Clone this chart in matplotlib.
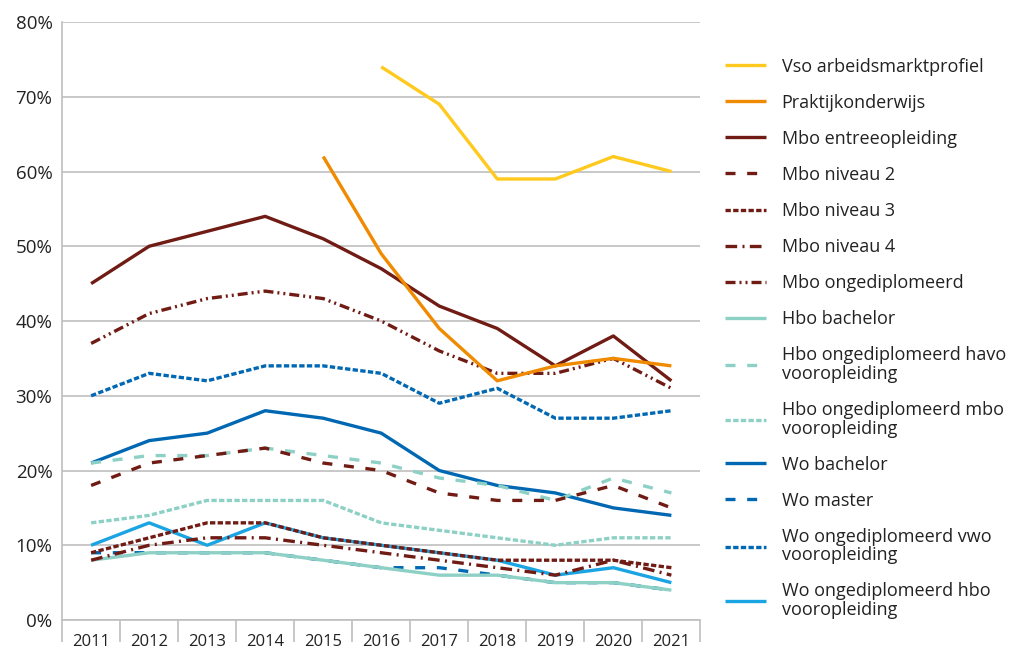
import matplotlib.pyplot as plt
import numpy as np

plt.rcParams['font.family'] = ['Open Sans', 'DejaVu Sans']

years = ['2011', '2012', '2013', '2014', '2015', '2016', '2017', '2018', '2019', '2020', '2021']
nan = np.nan

# percentages per series
vso = [nan, nan, nan, nan, nan, 74, 69, 59, 59, 62, 60]
praktijk = [nan, nan, nan, nan, 62, 49, 39, 32, 34, 35, 34]
mbo_entree = [45, 50, 52, 54, 51, 47, 42, 39, 34, 38, 32]
mbo_2 = [18, 21, 22, 23, 21, 20, 17, 16, 16, 18, 15]
mbo_3 = [9, 11, 13, 13, 11, 10, 9, 8, 8, 8, 7]
mbo_4 = [8, 10, 11, 11, 10, 9, 8, 7, 6, 8, 6]
mbo_ongedipl = [37, 41, 43, 44, 43, 40, 36, 33, 33, 35, 31]
hbo_bachelor = [8, 9, 9, 9, 8, 7, 6, 6, 5, 5, 4]
hbo_havo = [21, 22, 22, 23, 22, 21, 19, 18, 16, 19, 17]
hbo_mbo = [13, 14, 16, 16, 16, 13, 12, 11, 10, 11, 11]
wo_bachelor = [21, 24, 25, 28, 27, 25, 20, 18, 17, 15, 14]
wo_master = [9, 9, 9, 9, 8, 7, 7, 6, 5, 5, 4]
wo_vwo = [30, 33, 32, 34, 34, 33, 29, 31, 27, 27, 28]
wo_hbo = [10, 13, 10, 13, 11, 10, 9, 8, 6, 7, 5]

yellow = '#FFC91E'
orange = '#F08A00'
darkred = '#701B14'
teal = '#8DD0C5'
blue = '#0068B3'
lightblue = '#1BA4E2'

long_dash = (0, (3, 3.5))
short_dash = (0, (1.6, 0.7))
dash_dot = (0, (3.5, 1.6, 0.6, 1.6))
dash_dot_dot = (0, (3, 1.2, 0.6, 1.2, 0.6, 1.2))

series = [
    ('Vso arbeidsmarktprofiel', vso, yellow, '-'),
    ('Praktijkonderwijs', praktijk, orange, '-'),
    ('Mbo entreeopleiding', mbo_entree, darkred, '-'),
    ('Mbo niveau 2', mbo_2, darkred, long_dash),
    ('Mbo niveau 3', mbo_3, darkred, short_dash),
    ('Mbo niveau 4', mbo_4, darkred, dash_dot),
    ('Mbo ongediplomeerd', mbo_ongedipl, darkred, dash_dot_dot),
    ('Hbo bachelor', hbo_bachelor, teal, '-'),
    ('Hbo ongediplomeerd havo\nvooropleiding', hbo_havo, teal, long_dash),
    ('Hbo ongediplomeerd mbo\nvooropleiding', hbo_mbo, teal, short_dash),
    ('Wo bachelor', wo_bachelor, blue, '-'),
    ('Wo master', wo_master, blue, long_dash),
    ('Wo ongediplomeerd vwo\nvooropleiding', wo_vwo, blue, short_dash),
    ('Wo ongediplomeerd hbo\nvooropleiding', wo_hbo, lightblue, '-'),
]

fig = plt.figure(figsize=(10.18, 6.55), dpi=100)
ax = fig.add_axes([0.061, 0.0534, 0.627, 0.913])

x = np.arange(len(years))
handles = []
n = len(series)
for i, (label, vals, color, ls) in enumerate(series):
    line, = ax.plot(x, np.array(vals, dtype=float) / 100, color=color, linestyle=ls,
                    linewidth=2.4, label=label, zorder=3 + (n - i) * 0.1,
                    solid_capstyle='butt', dash_capstyle='butt')
    handles.append(line)

ax.set_ylim(0, 0.8)
ax.set_xlim(-0.5, len(years) - 0.5)
ax.set_yticks(np.arange(0, 0.81, 0.1))
ax.set_yticklabels(['%d%%' % v for v in range(0, 81, 10)])
ax.yaxis.grid(True, color='#BFBFBF', linewidth=1.2)
ax.set_axisbelow(True)
ax.tick_params(axis='y', length=0, pad=7, labelsize=13.5, colors='#222222')

ax.set_xticks(x)
ax.set_xticklabels(years)
ax.set_xticks(np.arange(-0.5, len(years), 1), minor=True)
ax.tick_params(axis='x', which='major', length=0, pad=10, labelsize=12, colors='#222222')
ax.tick_params(axis='x', which='minor', length=16, width=1.2, color='#BFBFBF')

for side in ['top', 'right']:
    ax.spines[side].set_visible(False)
for side in ['left', 'bottom']:
    ax.spines[side].set_color('#BFBFBF')
    ax.spines[side].set_linewidth(1.2)

leg = fig.legend(handles=handles, loc='upper left', bbox_to_anchor=(0.712, 0.912),
                 frameon=False, fontsize=13, handlelength=2.3, handletextpad=0.85,
                 labelspacing=1.0, borderpad=0, borderaxespad=0)
for t in leg.get_texts():
    t.set_color('#222222')
    t.set_linespacing(1.05)

plt.savefig('out.png', dpi=100)
